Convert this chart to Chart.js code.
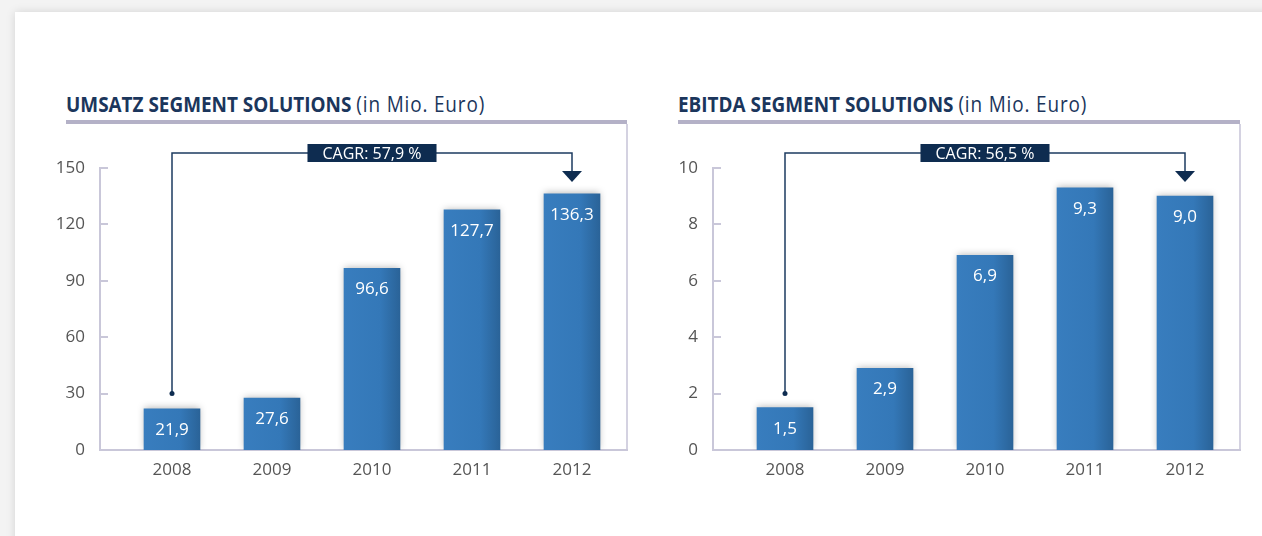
<!DOCTYPE html>
<html>
<head>
<meta charset="utf-8">
<script src="https://cdn.jsdelivr.net/npm/chart.js@4"></script>
<style>
  html, body { margin: 0; padding: 0; }
  body { width: 1262px; height: 536px; background: #f3f3f3; overflow: hidden; position: relative; font-family: "Open Sans", sans-serif; }
  .card { position: absolute; left: 15px; top: 12px; width: 1300px; height: 600px; background: #fff; box-shadow: 0 0 9px rgba(0,0,0,0.13); }
  .title { position: absolute; top: 88px; font-size: 22px; line-height: 30px; color: #1b365c; white-space: nowrap; transform-origin: 0 0; transform: scaleX(0.86); }
  .title b { font-weight: 700; }
  .title span { letter-spacing: 1px; }
  .rule { position: absolute; top: 120px; height: 4px; background: #b4b1c7; }
  .side { position: absolute; top: 124px; height: 327px; width: 2px; background: #d4d2e1; }
  .wrap { position: absolute; top: 124px; height: 400px; }
</style>
</head>
<body>
<div class="card"></div>

<div class="title" style="left:66px"><b>UMSATZ SEGMENT SOLUTIONS</b> <span>(in Mio. Euro)</span></div>
<div class="rule" style="left:66px; width:561px"></div>
<div class="side" style="left:626px"></div>
<div class="wrap" style="left:0; width:640px"><canvas id="umsatz-chart"></canvas></div>

<div class="title" style="left:678px"><b>EBITDA SEGMENT SOLUTIONS</b> <span>(in Mio. Euro)</span></div>
<div class="rule" style="left:678px; width:562px"></div>
<div class="side" style="left:1239px"></div>
<div class="wrap" style="left:640px; width:622px"><canvas id="ebitda-chart"></canvas></div>

<script>
// Segment Solutions, 2008-2012
const years = ['2008', '2009', '2010', '2011', '2012'];
const umsatz = [21.9, 27.6, 96.6, 127.7, 136.3];
const ebitda = [1.5, 2.9, 6.9, 9.3, 9.0];

const umsatzAxis = { max: 150, step: 30 };
const ebitdaAxis = { max: 10, step: 2 };

// CAGR bracket: start value on the first bar, label text
const cagrFrom = [30, 2];
const cagrLabels = ['CAGR: 57,9 %', 'CAGR: 56,5 %'];

const axisColor = '#c9c7d9';
const navy = '#0e2c50';

function fmt(v) {
  return v.toFixed(1).replace('.', ',');
}

// soft shadow around the bars
const barShadow = {
  id: 'barShadow',
  beforeDatasetsDraw(chart) {
    const c = chart.ctx;
    c.save();
    c.shadowColor = 'rgba(0,0,0,0.28)';
    c.shadowBlur = 7;
    c.shadowOffsetY = -1;
  },
  afterDatasetsDraw(chart) {
    chart.ctx.restore();
  }
};

// inward tick marks, value labels and the CAGR bracket
const extras = {
  id: 'extras',
  afterDraw(chart, args, opts) {
    const c = chart.ctx;
    const x = chart.scales.x;
    const y = chart.scales.y;
    const area = chart.chartArea;

    c.save();
    // y ticks pointing into the plot
    c.strokeStyle = axisColor;
    c.lineWidth = 2;
    y.ticks.forEach(t => {
      if (t.value === 0) return;
      const py = Math.round(y.getPixelForValue(t.value));
      c.beginPath();
      c.moveTo(area.left, py);
      c.lineTo(area.left + 8, py);
      c.stroke();
    });

    // values inside bars
    c.fillStyle = '#ffffff';
    c.font = '17px "Open Sans", sans-serif';
    c.textAlign = 'center';
    c.textBaseline = 'middle';
    chart.getDatasetMeta(0).data.forEach((bar, i) => {
      c.fillText(fmt(chart.data.datasets[0].data[i].y), bar.x, bar.y + 21);
    });

    // CAGR bracket
    const x0 = x.getPixelForValue(0);
    const x1 = x.getPixelForValue(years.length - 1);
    const yDot = y.getPixelForValue(opts.from);
    const yTop = area.top - 15;
    const yArrow = area.top + 3;
    c.strokeStyle = '#1d3b60';
    c.lineWidth = 1.5;
    c.beginPath();
    c.moveTo(x0, yDot);
    c.lineTo(x0, yTop);
    c.lineTo(x1, yTop);
    c.lineTo(x1, yArrow);
    c.stroke();

    c.fillStyle = navy;
    c.beginPath();
    c.arc(x0, yDot, 2.5, 0, Math.PI * 2);
    c.fill();

    c.beginPath();
    c.moveTo(x1 - 10, yArrow);
    c.lineTo(x1 + 10, yArrow);
    c.lineTo(x1, yArrow + 11);
    c.closePath();
    c.fill();

    c.font = '16px "Open Sans", sans-serif';
    const tw = c.measureText(opts.label).width;
    const bw = tw + 30;
    const mid = (x0 + x1) / 2;
    c.fillRect(mid - bw / 2, yTop - 9, bw, 18);
    c.fillStyle = '#ffffff';
    c.fillText(opts.label, mid, yTop + 1);
    c.restore();
  }
};

function barGradient(context) {
  const chart = context.chart;
  if (!chart.chartArea || context.dataIndex === undefined) return '#3479b9';
  const cx = chart.scales.x.getPixelForValue(context.dataIndex);
  const g = chart.ctx.createLinearGradient(cx - 28, 0, cx + 28, 0);
  g.addColorStop(0, '#387dbe');
  g.addColorStop(0.65, '#3478b8');
  g.addColorStop(1, '#2a6398');
  return g;
}

function renderSegmentChart(elementId, values, axis, cagrIndex, pad) {
  const ctx = document.getElementById(elementId);
  if (!ctx) return;

  new Chart(ctx, {
    type: 'bar',
    data: {
      datasets: [{
        data: values.map((v, i) => ({ x: i, y: v })),
        backgroundColor: barGradient,
        borderWidth: 0,
        barThickness: 56
      }]
    },
    options: {
      responsive: true,
      maintainAspectRatio: false,
      animation: false,
      layout: { padding: pad },
      plugins: {
        legend: { display: false },
        tooltip: { enabled: false },
        extras: { from: cagrFrom[cagrIndex], label: cagrLabels[cagrIndex] }
      },
      scales: {
        x: {
          type: 'linear',
          offset: false,
          min: -0.72,
          max: 4.55,
          afterBuildTicks: scale => { scale.ticks = years.map((_, i) => ({ value: i })); },
          afterFit: scale => { scale.height = 40; },
          grid: { display: false },
          border: { color: axisColor, width: 2 },
          ticks: {
            autoSkip: false,
            maxRotation: 0,
            padding: 2,
            color: '#555',
            font: { family: 'Open Sans', size: 17 },
            callback: v => years[v]
          }
        },
        y: {
          min: 0,
          max: axis.max,
          afterFit: scale => { scale.width = 60; },
          grid: { display: false },
          border: { color: axisColor, width: 2 },
          ticks: {
            stepSize: axis.step,
            padding: 7,
            color: '#555',
            font: { family: 'Open Sans', size: 17 }
          }
        }
      }
    },
    plugins: [barShadow, extras]
  });
}

document.addEventListener('DOMContentLoaded', function() {
  if (typeof Chart === 'undefined') {
    console.error('Chart.js is not loaded.');
    return;
  }
  renderSegmentChart('umsatz-chart', umsatz, umsatzAxis, 0, { left: 40, right: 13, top: 44, bottom: 34 });
  renderSegmentChart('ebitda-chart', ebitda, ebitdaAxis, 1, { left: 13, right: 22, top: 44, bottom: 34 });
});
</script>
</body>
</html>
